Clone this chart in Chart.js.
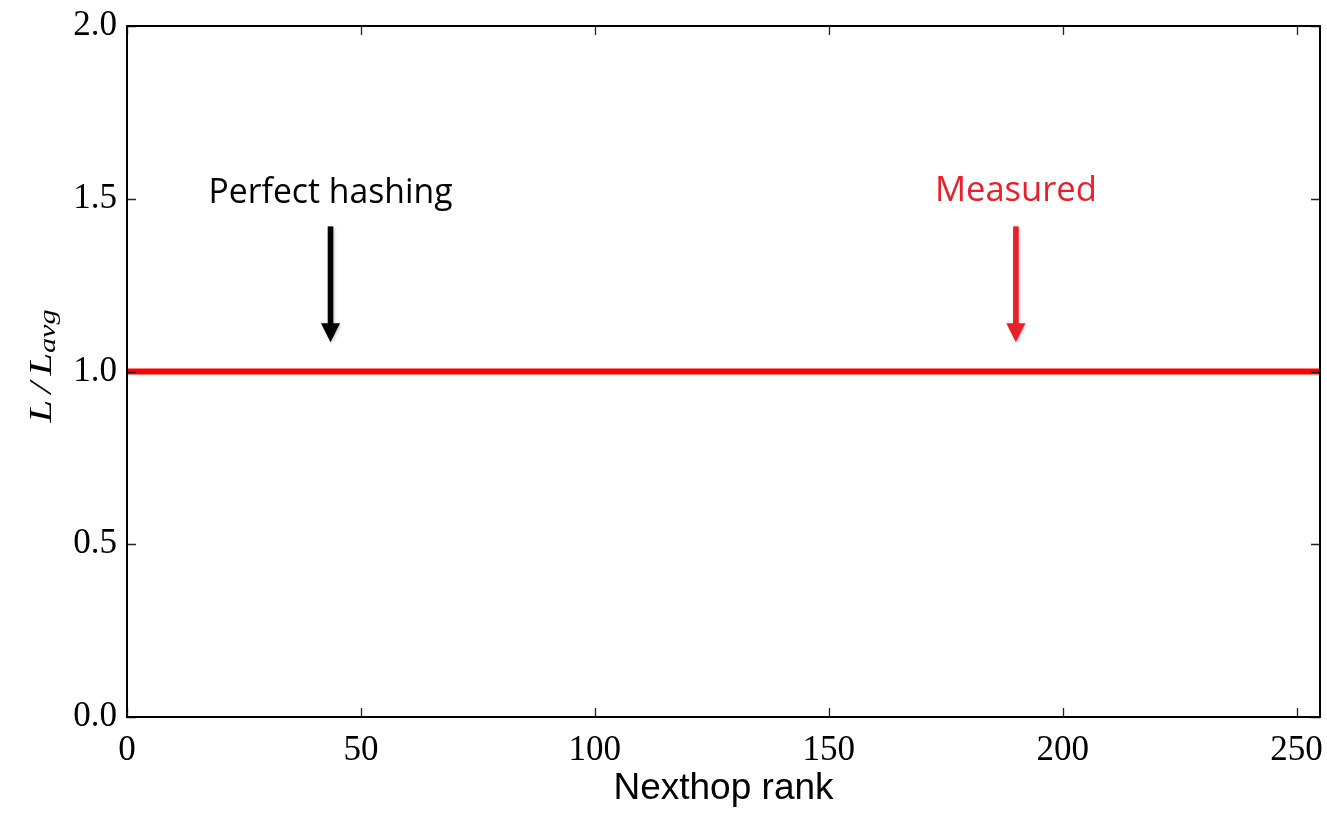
<!DOCTYPE html>
<html>
<head>
<meta charset="utf-8">
<script src="https://cdn.jsdelivr.net/npm/chart.js@4.4.1/dist/chart.umd.min.js"></script>
<style>
  body { margin: 0; background: #fff; }
  #wrap { width: 1327px; height: 813px; }
</style>
</head>
<body>
<div id="wrap"><canvas id="chart" width="1327" height="813"></canvas></div>
<script>
// values
const rankEnds = [0, 255];
const measuredLoad = [1.0, 1.0];
const xTickValues = [0, 50, 100, 150, 200, 250];
const yTickValues = [0.0, 0.5, 1.0, 1.5, 2.0];
const noteLabels = ['Perfect hashing', 'Measured'];
const noteRank = [43.5, 190];
const noteArrowFrom = [1.42, 1.42];
const noteArrowTo = [1.085, 1.085];

const RED = '#ff0000';
const NOTE_RED = '#e8202a';
const serif = '"Liberation Serif", "DejaVu Serif", serif';

// frame, inward ticks, y title and the two arrows
const decorations = {
  id: 'decorations',
  afterDraw(chart) {
    const ctx = chart.ctx;
    const a = chart.chartArea;
    const xs = chart.scales.x, ys = chart.scales.y;
    ctx.save();

    // inward ticks on all four sides
    ctx.strokeStyle = '#222';
    ctx.lineWidth = 1.3;
    const len = 9;
    xTickValues.forEach(v => {
      const px = Math.round(xs.getPixelForValue(v)) + 0.5;
      ctx.beginPath();
      ctx.moveTo(px, a.bottom); ctx.lineTo(px, a.bottom - len);
      ctx.moveTo(px, a.top); ctx.lineTo(px, a.top + len);
      ctx.stroke();
    });
    yTickValues.forEach(v => {
      const py = Math.round(ys.getPixelForValue(v)) + 0.5;
      ctx.beginPath();
      ctx.moveTo(a.left, py); ctx.lineTo(a.left + len, py);
      ctx.moveTo(a.right, py); ctx.lineTo(a.right - len, py);
      ctx.stroke();
    });

    // frame
    ctx.strokeStyle = '#000';
    ctx.lineWidth = 2;
    ctx.strokeRect(a.left, a.top, a.right - a.left, a.bottom - a.top);

    // y axis title: L / L_avg, widened to the length of the original math text
    ctx.translate(41, 366);
    ctx.rotate(-Math.PI / 2);
    ctx.fillStyle = '#000';
    ctx.textBaseline = 'alphabetic';
    const big = 'italic 31px ' + serif;
    const small = 'italic 23px ' + serif;
    ctx.font = big;
    const wL = ctx.measureText('L').width;
    const wS = ctx.measureText('/').width;
    ctx.font = small;
    const w2 = ctx.measureText('avg').width;
    const gap = 5;
    const total = wL * 2 + wS + gap * 2 + w2;
    ctx.scale(113 / total, 1);
    const x0 = -total / 2;
    ctx.font = big;
    ctx.fillText('L', x0, 10);
    ctx.fillText('/', x0 + wL + gap, 10);
    ctx.fillText('L', x0 + wL + wS + gap * 2, 10);
    ctx.font = small;
    ctx.fillText('avg', x0 + 2 * wL + wS + gap * 2, 14);
    ctx.setTransform(1, 0, 0, 1, 0, 0);

    // arrows and their labels
    const colours = ['#000', NOTE_RED];
    const targetWidth = [244, 162];
    const baseline = [203, 201];
    noteLabels.forEach((label, i) => {
      const px = xs.getPixelForValue(noteRank[i]);
      const y0 = ys.getPixelForValue(noteArrowFrom[i]);
      const y1 = ys.getPixelForValue(noteArrowTo[i]);
      ctx.fillStyle = colours[i];
      ctx.shadowColor = 'rgba(0,0,0,0.25)';
      ctx.shadowBlur = 3;
      ctx.shadowOffsetX = 1;
      ctx.shadowOffsetY = 1;
      ctx.fillRect(px - 2.8, y0, 5.6, y1 - y0 - 18);
      ctx.beginPath();
      ctx.moveTo(px - 9.5, y1 - 19);
      ctx.lineTo(px + 9.5, y1 - 19);
      ctx.lineTo(px, y1);
      ctx.closePath();
      ctx.fill();
      ctx.shadowColor = 'transparent';

      let size = 30;
      ctx.font = size + 'px "Open Sans", "Noto Sans", sans-serif';
      size = size * targetWidth[i] / ctx.measureText(label).width;
      ctx.font = size + 'px "Open Sans", "Noto Sans", sans-serif';
      ctx.textAlign = 'center';
      ctx.fillText(label, px, baseline[i]);
    });
    ctx.restore();
  }
};

new Chart(document.getElementById('chart').getContext('2d'), {
  type: 'line',
  data: {
    datasets: [
      {
        label: 'Measured',
        data: rankEnds.map((r, i) => ({ x: r, y: measuredLoad[i] })),
        borderColor: RED,
        borderWidth: 6,
        pointRadius: 0
      }
    ]
  },
  options: {
    responsive: false,
    animation: false,
    layout: { padding: { top: 26, right: 7, left: 0, bottom: 0 } },
    plugins: {
      legend: { display: false },
      tooltip: { enabled: false }
    },
    scales: {
      x: {
        type: 'linear',
        min: 0,
        max: 255,
        afterBuildTicks: s => { s.ticks = xTickValues.map(v => ({ value: v })); },
        afterFit: s => { s.height = 96; },
        // invisible outer ticks only push the labels away from the axis
        grid: { display: true, drawOnChartArea: false, drawTicks: true, tickLength: 13, tickColor: 'rgba(0,0,0,0)' },
        border: { display: false },
        ticks: {
          padding: 0,
          color: '#000',
          maxRotation: 0,
          font: { family: serif, size: 35 },
          callback: v => String(v)
        },
        title: {
          display: true,
          text: 'Nexthop rank',
          color: '#000',
          font: { family: '"Liberation Sans", Arial, sans-serif', size: 37 },
          padding: { top: 0, bottom: 2 }
        }
      },
      y: {
        min: 0,
        max: 2,
        afterBuildTicks: s => { s.ticks = yTickValues.map(v => ({ value: v })); },
        afterFit: s => { s.width = 127; },
        grid: { display: true, drawOnChartArea: false, drawTicks: true, tickLength: 10, tickColor: 'rgba(0,0,0,0)' },
        border: { display: false },
        ticks: {
          padding: 0,
          color: '#000',
          font: { family: serif, size: 35 },
          callback: v => Number(v).toFixed(1)
        }
      }
    }
  },
  plugins: [decorations]
});
</script>
</body>
</html>
